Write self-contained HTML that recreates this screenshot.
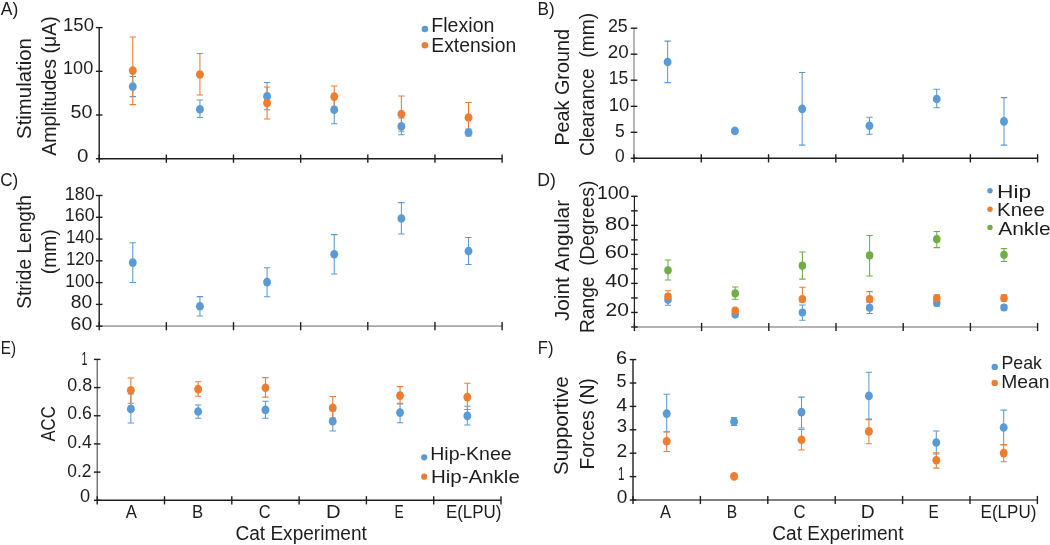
<!DOCTYPE html>
<html><head><meta charset="utf-8"><title>Chart</title>
<style>
html,body{margin:0;padding:0;background:#fff;width:1050px;height:545px;overflow:hidden;}
svg{display:block;will-change:transform;filter:blur(0.3px);font-family:"Liberation Sans",sans-serif;font-kerning:none;}
</style></head>
<body>
<svg width="1050" height="545" viewBox="0 0 1050 545">
<rect width="1050" height="545" fill="#fff"/>
<text x="0.87" y="15.1" font-size="19" fill="#1E1E1E" textLength="17.52" lengthAdjust="spacingAndGlyphs" xml:space="preserve">A)</text>
<text x="537.49" y="15.1" font-size="19" fill="#1E1E1E" textLength="17.17" lengthAdjust="spacingAndGlyphs" xml:space="preserve">B)</text>
<text x="0.23" y="185.7" font-size="19" fill="#1E1E1E" textLength="18.03" lengthAdjust="spacingAndGlyphs" xml:space="preserve">C)</text>
<text x="537.25" y="185.7" font-size="19" fill="#1E1E1E" textLength="18.65" lengthAdjust="spacingAndGlyphs" xml:space="preserve">D)</text>
<text x="0.85" y="353.6" font-size="19" fill="#1E1E1E" textLength="15.19" lengthAdjust="spacingAndGlyphs" xml:space="preserve">E)</text>
<text x="537.84" y="353.6" font-size="19" fill="#1E1E1E" textLength="15.7" lengthAdjust="spacingAndGlyphs" xml:space="preserve">F)</text>
<line x1="99.2" y1="27.6" x2="99.2" y2="159.4" stroke="#1E1E1E" stroke-width="1.4"/>
<line x1="98.5" y1="158.7" x2="502.1" y2="158.7" stroke="#1E1E1E" stroke-width="1.4"/>
<line x1="95.9" y1="27.6" x2="102.5" y2="27.6" stroke="#1E1E1E" stroke-width="1.4"/>
<line x1="95.9" y1="71.3" x2="102.5" y2="71.3" stroke="#1E1E1E" stroke-width="1.4"/>
<line x1="95.9" y1="115.0" x2="102.5" y2="115.0" stroke="#1E1E1E" stroke-width="1.4"/>
<line x1="95.9" y1="158.7" x2="102.5" y2="158.7" stroke="#1E1E1E" stroke-width="1.4"/>
<line x1="99.2" y1="154.6" x2="99.2" y2="162.8" stroke="#1E1E1E" stroke-width="1.4"/>
<line x1="166.35" y1="154.6" x2="166.35" y2="162.8" stroke="#1E1E1E" stroke-width="1.4"/>
<line x1="233.5" y1="154.6" x2="233.5" y2="162.8" stroke="#1E1E1E" stroke-width="1.4"/>
<line x1="300.65" y1="154.6" x2="300.65" y2="162.8" stroke="#1E1E1E" stroke-width="1.4"/>
<line x1="367.8" y1="154.6" x2="367.8" y2="162.8" stroke="#1E1E1E" stroke-width="1.4"/>
<line x1="434.95" y1="154.6" x2="434.95" y2="162.8" stroke="#1E1E1E" stroke-width="1.4"/>
<line x1="502.1" y1="154.6" x2="502.1" y2="162.8" stroke="#1E1E1E" stroke-width="1.4"/>
<text x="62.98" y="30.6" font-size="19" fill="#1E1E1E" textLength="31.04" lengthAdjust="spacingAndGlyphs" xml:space="preserve">150</text>
<text x="63.02" y="74.0" font-size="19" fill="#1E1E1E" textLength="30.18" lengthAdjust="spacingAndGlyphs" xml:space="preserve">100</text>
<text x="70.51" y="118.1" font-size="19" fill="#1E1E1E" textLength="21.85" lengthAdjust="spacingAndGlyphs" xml:space="preserve">50</text>
<text x="76.9" y="161.5" font-size="19" fill="#1E1E1E" textLength="11.4" lengthAdjust="spacingAndGlyphs" xml:space="preserve">0</text>
<text transform="translate(31.1,138) rotate(-90)" x="-0.92" y="0" font-size="19.8" fill="#1E1E1E" textLength="100.75" lengthAdjust="spacingAndGlyphs" xml:space="preserve">Stimulation</text>
<text transform="translate(56.1,155.7) rotate(-90)" x="-0.04" y="0" font-size="19.8" fill="#1E1E1E" textLength="139.45" lengthAdjust="spacingAndGlyphs" xml:space="preserve">Amplitudes (μA)</text>
<path d="M132.78 76.5V96.6M129.58 76.5H135.97M129.58 96.6H135.97" stroke="#5B9BD5" stroke-width="1.05" fill="none"/>
<path d="M199.93 99.9V117.4M196.73 99.9H203.12M196.73 117.4H203.12" stroke="#5B9BD5" stroke-width="1.05" fill="none"/>
<path d="M267.07 82.5V109.7M263.88 82.5H270.27M263.88 109.7H270.27" stroke="#5B9BD5" stroke-width="1.05" fill="none"/>
<path d="M334.23 96V123.8M331.03 96H337.43M331.03 123.8H337.43" stroke="#5B9BD5" stroke-width="1.05" fill="none"/>
<path d="M401.38 118V134.8M398.18 118H404.57M398.18 134.8H404.57" stroke="#5B9BD5" stroke-width="1.05" fill="none"/>
<path d="M468.53 129V136M465.33 129H471.73M465.33 136H471.73" stroke="#5B9BD5" stroke-width="1.05" fill="none"/>
<path d="M132.78 36.9V104.6M129.58 36.9H135.97M129.58 104.6H135.97" stroke="#ED7D31" stroke-width="1.05" fill="none"/>
<path d="M199.93 53.5V95M196.73 53.5H203.12M196.73 95H203.12" stroke="#ED7D31" stroke-width="1.05" fill="none"/>
<path d="M267.07 87V119M263.88 87H270.27M263.88 119H270.27" stroke="#ED7D31" stroke-width="1.05" fill="none"/>
<path d="M334.23 86V107M331.03 86H337.43M331.03 107H337.43" stroke="#ED7D31" stroke-width="1.05" fill="none"/>
<path d="M401.38 95.9V131.2M398.18 95.9H404.57M398.18 131.2H404.57" stroke="#ED7D31" stroke-width="1.05" fill="none"/>
<path d="M468.53 102.4V132M465.33 102.4H471.73M465.33 132H471.73" stroke="#ED7D31" stroke-width="1.05" fill="none"/>
<ellipse cx="132.78" cy="86.6" rx="3.96" ry="4.3" fill="#5B9BD5"/>
<ellipse cx="199.93" cy="109.2" rx="3.96" ry="4.3" fill="#5B9BD5"/>
<ellipse cx="267.07" cy="96.4" rx="3.96" ry="4.3" fill="#5B9BD5"/>
<ellipse cx="334.23" cy="109.7" rx="3.96" ry="4.3" fill="#5B9BD5"/>
<ellipse cx="401.38" cy="126.4" rx="3.96" ry="4.3" fill="#5B9BD5"/>
<ellipse cx="468.53" cy="132.5" rx="3.96" ry="4.3" fill="#5B9BD5"/>
<ellipse cx="132.78" cy="70.6" rx="3.96" ry="4.3" fill="#ED7D31"/>
<ellipse cx="199.93" cy="74.5" rx="3.96" ry="4.3" fill="#ED7D31"/>
<ellipse cx="267.07" cy="103" rx="3.96" ry="4.3" fill="#ED7D31"/>
<ellipse cx="334.23" cy="96.6" rx="3.96" ry="4.3" fill="#ED7D31"/>
<ellipse cx="401.38" cy="114" rx="3.96" ry="4.3" fill="#ED7D31"/>
<ellipse cx="468.53" cy="117.5" rx="3.96" ry="4.3" fill="#ED7D31"/>
<circle cx="424.9" cy="29" r="3.3" fill="#5B9BD5"/>
<circle cx="424.9" cy="45.2" r="3.3" fill="#ED7D31"/>
<text x="431.29" y="31.5" font-size="19.8" fill="#1E1E1E" textLength="63.18" lengthAdjust="spacingAndGlyphs" xml:space="preserve">Flexion</text>
<text x="431.32" y="51.8" font-size="19.8" fill="#1E1E1E" textLength="84.84" lengthAdjust="spacingAndGlyphs" xml:space="preserve">Extension</text>
<line x1="634.0" y1="28.2" x2="634.0" y2="159.0" stroke="#A8A8A8" stroke-width="1.7"/>
<line x1="633.3" y1="158.3" x2="1037.62" y2="158.3" stroke="#1E1E1E" stroke-width="1.4"/>
<line x1="630.7" y1="28.2" x2="637.3" y2="28.2" stroke="#1E1E1E" stroke-width="1.4"/>
<line x1="630.7" y1="54.2" x2="637.3" y2="54.2" stroke="#1E1E1E" stroke-width="1.4"/>
<line x1="630.7" y1="80.2" x2="637.3" y2="80.2" stroke="#1E1E1E" stroke-width="1.4"/>
<line x1="630.7" y1="106.3" x2="637.3" y2="106.3" stroke="#1E1E1E" stroke-width="1.4"/>
<line x1="630.7" y1="132.3" x2="637.3" y2="132.3" stroke="#1E1E1E" stroke-width="1.4"/>
<line x1="630.7" y1="158.3" x2="637.3" y2="158.3" stroke="#1E1E1E" stroke-width="1.4"/>
<line x1="634.0" y1="154.2" x2="634.0" y2="162.4" stroke="#1E1E1E" stroke-width="1.4"/>
<line x1="701.27" y1="154.2" x2="701.27" y2="162.4" stroke="#1E1E1E" stroke-width="1.4"/>
<line x1="768.54" y1="154.2" x2="768.54" y2="162.4" stroke="#1E1E1E" stroke-width="1.4"/>
<line x1="835.81" y1="154.2" x2="835.81" y2="162.4" stroke="#1E1E1E" stroke-width="1.4"/>
<line x1="903.08" y1="154.2" x2="903.08" y2="162.4" stroke="#1E1E1E" stroke-width="1.4"/>
<line x1="970.35" y1="154.2" x2="970.35" y2="162.4" stroke="#1E1E1E" stroke-width="1.4"/>
<line x1="1037.62" y1="154.2" x2="1037.62" y2="162.4" stroke="#1E1E1E" stroke-width="1.4"/>
<text x="607.9" y="32.1" font-size="19" fill="#1E1E1E" textLength="19.85" lengthAdjust="spacingAndGlyphs" xml:space="preserve">25</text>
<text x="607.86" y="58.2" font-size="19" fill="#1E1E1E" textLength="20.88" lengthAdjust="spacingAndGlyphs" xml:space="preserve">20</text>
<text x="608.77" y="84.1" font-size="19" fill="#1E1E1E" textLength="19.47" lengthAdjust="spacingAndGlyphs" xml:space="preserve">15</text>
<text x="608.7" y="110.5" font-size="19" fill="#1E1E1E" textLength="20.41" lengthAdjust="spacingAndGlyphs" xml:space="preserve">10</text>
<text x="614.9" y="136.6" font-size="19" fill="#1E1E1E" textLength="9.74" lengthAdjust="spacingAndGlyphs" xml:space="preserve">5</text>
<text x="614.92" y="162.2" font-size="19" fill="#1E1E1E" textLength="9.66" lengthAdjust="spacingAndGlyphs" xml:space="preserve">0</text>
<text transform="translate(568.5,144) rotate(-90)" x="-1.62" y="0" font-size="19.8" fill="#1E1E1E" textLength="116.6" lengthAdjust="spacingAndGlyphs" xml:space="preserve">Peak Ground</text>
<text transform="translate(594,155) rotate(-90)" x="-0.98" y="0" font-size="19.8" fill="#1E1E1E" textLength="143.07" lengthAdjust="spacingAndGlyphs" xml:space="preserve">Clearance  (mm)</text>
<path d="M667.63 41.1V82.6M664.43 41.1H670.84M664.43 82.6H670.84" stroke="#5B9BD5" stroke-width="1.05" fill="none"/>
<path d="M734.9 129V133M731.7 129H738.11M731.7 133H738.11" stroke="#5B9BD5" stroke-width="1.05" fill="none"/>
<path d="M802.17 72.5V145.1M798.97 72.5H805.38M798.97 145.1H805.38" stroke="#5B9BD5" stroke-width="1.05" fill="none"/>
<path d="M869.44 117.2V134.3M866.24 117.2H872.64M866.24 134.3H872.64" stroke="#5B9BD5" stroke-width="1.05" fill="none"/>
<path d="M936.71 89.3V107.8M933.51 89.3H939.91M933.51 107.8H939.91" stroke="#5B9BD5" stroke-width="1.05" fill="none"/>
<path d="M1003.98 97.6V145.1M1000.78 97.6H1007.18M1000.78 145.1H1007.18" stroke="#5B9BD5" stroke-width="1.05" fill="none"/>
<ellipse cx="667.63" cy="62" rx="3.96" ry="4.3" fill="#5B9BD5"/>
<ellipse cx="734.9" cy="130.9" rx="3.96" ry="4.3" fill="#5B9BD5"/>
<ellipse cx="802.17" cy="108.9" rx="3.96" ry="4.3" fill="#5B9BD5"/>
<ellipse cx="869.44" cy="125.8" rx="3.96" ry="4.3" fill="#5B9BD5"/>
<ellipse cx="936.71" cy="99" rx="3.96" ry="4.3" fill="#5B9BD5"/>
<ellipse cx="1003.98" cy="121.4" rx="3.96" ry="4.3" fill="#5B9BD5"/>
<line x1="99.2" y1="195.5" x2="99.2" y2="326.9" stroke="#1E1E1E" stroke-width="1.4"/>
<line x1="98.5" y1="326.2" x2="502.1" y2="326.2" stroke="#A8A8A8" stroke-width="1.7"/>
<line x1="95.9" y1="195.5" x2="102.5" y2="195.5" stroke="#1E1E1E" stroke-width="1.4"/>
<line x1="95.9" y1="217.28" x2="102.5" y2="217.28" stroke="#1E1E1E" stroke-width="1.4"/>
<line x1="95.9" y1="239.06" x2="102.5" y2="239.06" stroke="#1E1E1E" stroke-width="1.4"/>
<line x1="95.9" y1="260.84" x2="102.5" y2="260.84" stroke="#1E1E1E" stroke-width="1.4"/>
<line x1="95.9" y1="282.62" x2="102.5" y2="282.62" stroke="#1E1E1E" stroke-width="1.4"/>
<line x1="95.9" y1="304.4" x2="102.5" y2="304.4" stroke="#1E1E1E" stroke-width="1.4"/>
<line x1="95.9" y1="326.18" x2="102.5" y2="326.18" stroke="#1E1E1E" stroke-width="1.4"/>
<line x1="99.2" y1="322.1" x2="99.2" y2="330.3" stroke="#1E1E1E" stroke-width="1.4"/>
<line x1="166.35" y1="322.1" x2="166.35" y2="330.3" stroke="#1E1E1E" stroke-width="1.4"/>
<line x1="233.5" y1="322.1" x2="233.5" y2="330.3" stroke="#1E1E1E" stroke-width="1.4"/>
<line x1="300.65" y1="322.1" x2="300.65" y2="330.3" stroke="#1E1E1E" stroke-width="1.4"/>
<line x1="367.8" y1="322.1" x2="367.8" y2="330.3" stroke="#1E1E1E" stroke-width="1.4"/>
<line x1="434.95" y1="322.1" x2="434.95" y2="330.3" stroke="#1E1E1E" stroke-width="1.4"/>
<line x1="502.1" y1="322.1" x2="502.1" y2="330.3" stroke="#1E1E1E" stroke-width="1.4"/>
<text x="64.84" y="199.9" font-size="19" fill="#1E1E1E" textLength="29.86" lengthAdjust="spacingAndGlyphs" xml:space="preserve">180</text>
<text x="64.84" y="221.3" font-size="19" fill="#1E1E1E" textLength="29.86" lengthAdjust="spacingAndGlyphs" xml:space="preserve">160</text>
<text x="65.91" y="243.2" font-size="19" fill="#1E1E1E" textLength="28.36" lengthAdjust="spacingAndGlyphs" xml:space="preserve">140</text>
<text x="65.91" y="265" font-size="19" fill="#1E1E1E" textLength="28.36" lengthAdjust="spacingAndGlyphs" xml:space="preserve">120</text>
<text x="65.28" y="286.7" font-size="19" fill="#1E1E1E" textLength="29.0" lengthAdjust="spacingAndGlyphs" xml:space="preserve">100</text>
<text x="70.76" y="308.3" font-size="19" fill="#1E1E1E" textLength="21.39" lengthAdjust="spacingAndGlyphs" xml:space="preserve">80</text>
<text x="70.62" y="329.5" font-size="19" fill="#1E1E1E" textLength="21.54" lengthAdjust="spacingAndGlyphs" xml:space="preserve">60</text>
<text transform="translate(31.0,308) rotate(-90)" x="-0.87" y="0" font-size="19.8" fill="#1E1E1E" textLength="113.81" lengthAdjust="spacingAndGlyphs" xml:space="preserve">Stride Length</text>
<text transform="translate(56.2,273) rotate(-90)" x="-1.19" y="0" font-size="19.8" fill="#1E1E1E" textLength="44.89" lengthAdjust="spacingAndGlyphs" xml:space="preserve">(mm)</text>
<path d="M132.78 242.7V282.5M129.58 242.7H135.97M129.58 282.5H135.97" stroke="#5B9BD5" stroke-width="1.05" fill="none"/>
<path d="M199.93 296.6V315.9M196.73 296.6H203.12M196.73 315.9H203.12" stroke="#5B9BD5" stroke-width="1.05" fill="none"/>
<path d="M267.07 267.8V296.8M263.88 267.8H270.27M263.88 296.8H270.27" stroke="#5B9BD5" stroke-width="1.05" fill="none"/>
<path d="M334.23 234.6V273.9M331.03 234.6H337.43M331.03 273.9H337.43" stroke="#5B9BD5" stroke-width="1.05" fill="none"/>
<path d="M401.38 202.6V234M398.18 202.6H404.57M398.18 234H404.57" stroke="#5B9BD5" stroke-width="1.05" fill="none"/>
<path d="M468.53 237.5V264.5M465.33 237.5H471.73M465.33 264.5H471.73" stroke="#5B9BD5" stroke-width="1.05" fill="none"/>
<ellipse cx="132.78" cy="262.6" rx="3.96" ry="4.3" fill="#5B9BD5"/>
<ellipse cx="199.93" cy="306.3" rx="3.96" ry="4.3" fill="#5B9BD5"/>
<ellipse cx="267.07" cy="282.1" rx="3.96" ry="4.3" fill="#5B9BD5"/>
<ellipse cx="334.23" cy="254.3" rx="3.96" ry="4.3" fill="#5B9BD5"/>
<ellipse cx="401.38" cy="218.5" rx="3.96" ry="4.3" fill="#5B9BD5"/>
<ellipse cx="468.53" cy="251" rx="3.96" ry="4.3" fill="#5B9BD5"/>
<line x1="634.4" y1="196.3" x2="634.4" y2="327.7" stroke="#1E1E1E" stroke-width="1.2"/>
<line x1="633.7" y1="327.0" x2="1037.6" y2="327.0" stroke="#9A9A9A" stroke-width="1.6"/>
<line x1="631.1" y1="196.3" x2="637.7" y2="196.3" stroke="#1E1E1E" stroke-width="1.4"/>
<line x1="631.1" y1="210.82" x2="637.7" y2="210.82" stroke="#1E1E1E" stroke-width="1.4"/>
<line x1="631.1" y1="225.34" x2="637.7" y2="225.34" stroke="#1E1E1E" stroke-width="1.4"/>
<line x1="631.1" y1="239.86" x2="637.7" y2="239.86" stroke="#1E1E1E" stroke-width="1.4"/>
<line x1="631.1" y1="254.38" x2="637.7" y2="254.38" stroke="#1E1E1E" stroke-width="1.4"/>
<line x1="631.1" y1="268.9" x2="637.7" y2="268.9" stroke="#1E1E1E" stroke-width="1.4"/>
<line x1="631.1" y1="283.42" x2="637.7" y2="283.42" stroke="#1E1E1E" stroke-width="1.4"/>
<line x1="631.1" y1="297.94" x2="637.7" y2="297.94" stroke="#1E1E1E" stroke-width="1.4"/>
<line x1="631.1" y1="312.46" x2="637.7" y2="312.46" stroke="#1E1E1E" stroke-width="1.4"/>
<line x1="631.1" y1="326.98" x2="637.7" y2="326.98" stroke="#1E1E1E" stroke-width="1.4"/>
<line x1="634.4" y1="322.9" x2="634.4" y2="331.1" stroke="#1E1E1E" stroke-width="1.4"/>
<line x1="701.6" y1="322.9" x2="701.6" y2="331.1" stroke="#1E1E1E" stroke-width="1.4"/>
<line x1="768.8" y1="322.9" x2="768.8" y2="331.1" stroke="#1E1E1E" stroke-width="1.4"/>
<line x1="836.0" y1="322.9" x2="836.0" y2="331.1" stroke="#1E1E1E" stroke-width="1.4"/>
<line x1="903.2" y1="322.9" x2="903.2" y2="331.1" stroke="#1E1E1E" stroke-width="1.4"/>
<line x1="970.4" y1="322.9" x2="970.4" y2="331.1" stroke="#1E1E1E" stroke-width="1.4"/>
<line x1="1037.6" y1="322.9" x2="1037.6" y2="331.1" stroke="#1E1E1E" stroke-width="1.4"/>
<text x="596.91" y="199.4" font-size="19" fill="#1E1E1E" textLength="32.55" lengthAdjust="spacingAndGlyphs" xml:space="preserve">100</text>
<text x="605.04" y="229.7" font-size="19" fill="#1E1E1E" textLength="24.52" lengthAdjust="spacingAndGlyphs" xml:space="preserve">80</text>
<text x="604.69" y="258.2" font-size="19" fill="#1E1E1E" textLength="24.26" lengthAdjust="spacingAndGlyphs" xml:space="preserve">60</text>
<text x="605.31" y="287.2" font-size="19" fill="#1E1E1E" textLength="23.62" lengthAdjust="spacingAndGlyphs" xml:space="preserve">40</text>
<text x="605.54" y="316.1" font-size="19" fill="#1E1E1E" textLength="23.38" lengthAdjust="spacingAndGlyphs" xml:space="preserve">20</text>
<text transform="translate(569.3,320.8) rotate(-90)" x="-0.32" y="0" font-size="19.8" fill="#1E1E1E" textLength="121.17" lengthAdjust="spacingAndGlyphs" xml:space="preserve">Joint Angular</text>
<text transform="translate(594.3,331.4) rotate(-90)" x="-1.57" y="0" font-size="19.8" fill="#1E1E1E" textLength="152.26" lengthAdjust="spacingAndGlyphs" xml:space="preserve">Range  (Degrees)</text>
<path d="M668.0 294V305.3M664.8 294H671.2M664.8 305.3H671.2" stroke="#5B9BD5" stroke-width="1.05" fill="none"/>
<path d="M802.4 305V320.3M799.2 305H805.6M799.2 320.3H805.6" stroke="#5B9BD5" stroke-width="1.05" fill="none"/>
<path d="M869.6 302V313.4M866.4 302H872.8M866.4 313.4H872.8" stroke="#5B9BD5" stroke-width="1.05" fill="none"/>
<path d="M936.8 300V306M933.6 300H940.0M933.6 306H940.0" stroke="#5B9BD5" stroke-width="1.05" fill="none"/>
<path d="M1004.0 305V310M1000.8 305H1007.2M1000.8 310H1007.2" stroke="#5B9BD5" stroke-width="1.05" fill="none"/>
<path d="M668.0 290.8V301M664.8 290.8H671.2M664.8 301H671.2" stroke="#ED7D31" stroke-width="1.05" fill="none"/>
<path d="M802.4 287.2V302M799.2 287.2H805.6M799.2 302H805.6" stroke="#ED7D31" stroke-width="1.05" fill="none"/>
<path d="M869.6 291.6V302M866.4 291.6H872.8M866.4 302H872.8" stroke="#ED7D31" stroke-width="1.05" fill="none"/>
<path d="M936.8 295V301M933.6 295H940.0M933.6 301H940.0" stroke="#ED7D31" stroke-width="1.05" fill="none"/>
<path d="M1004.0 295V301M1000.8 295H1007.2M1000.8 301H1007.2" stroke="#ED7D31" stroke-width="1.05" fill="none"/>
<path d="M668.0 260V280M664.8 260H671.2M664.8 280H671.2" stroke="#70AD47" stroke-width="1.05" fill="none"/>
<path d="M735.2 287V299.2M732.0 287H738.4M732.0 299.2H738.4" stroke="#70AD47" stroke-width="1.05" fill="none"/>
<path d="M802.4 252V279.1M799.2 252H805.6M799.2 279.1H805.6" stroke="#70AD47" stroke-width="1.05" fill="none"/>
<path d="M869.6 235.5V276M866.4 235.5H872.8M866.4 276H872.8" stroke="#70AD47" stroke-width="1.05" fill="none"/>
<path d="M936.8 231.4V247.6M933.6 231.4H940.0M933.6 247.6H940.0" stroke="#70AD47" stroke-width="1.05" fill="none"/>
<path d="M1004.0 248.6V261.4M1000.8 248.6H1007.2M1000.8 261.4H1007.2" stroke="#70AD47" stroke-width="1.05" fill="none"/>
<ellipse cx="668.0" cy="299.8" rx="3.76" ry="4.09" fill="#5B9BD5"/>
<ellipse cx="735.2" cy="314.6" rx="3.76" ry="4.09" fill="#5B9BD5"/>
<ellipse cx="802.4" cy="312.5" rx="3.76" ry="4.09" fill="#5B9BD5"/>
<ellipse cx="869.6" cy="307.8" rx="3.76" ry="4.09" fill="#5B9BD5"/>
<ellipse cx="936.8" cy="303.1" rx="3.76" ry="4.09" fill="#5B9BD5"/>
<ellipse cx="1004.0" cy="307.5" rx="3.76" ry="4.09" fill="#5B9BD5"/>
<ellipse cx="668.0" cy="296.6" rx="3.76" ry="4.09" fill="#ED7D31"/>
<ellipse cx="735.2" cy="310.7" rx="3.76" ry="4.09" fill="#ED7D31"/>
<ellipse cx="802.4" cy="299.1" rx="3.76" ry="4.09" fill="#ED7D31"/>
<ellipse cx="869.6" cy="299.1" rx="3.76" ry="4.09" fill="#ED7D31"/>
<ellipse cx="936.8" cy="298.2" rx="3.76" ry="4.09" fill="#ED7D31"/>
<ellipse cx="1004.0" cy="298.2" rx="3.76" ry="4.09" fill="#ED7D31"/>
<ellipse cx="668.0" cy="270.3" rx="3.76" ry="4.09" fill="#70AD47"/>
<ellipse cx="735.2" cy="293.4" rx="3.76" ry="4.09" fill="#70AD47"/>
<ellipse cx="802.4" cy="265.7" rx="3.76" ry="4.09" fill="#70AD47"/>
<ellipse cx="869.6" cy="255.4" rx="3.76" ry="4.09" fill="#70AD47"/>
<ellipse cx="936.8" cy="239.2" rx="3.76" ry="4.09" fill="#70AD47"/>
<ellipse cx="1004.0" cy="254.8" rx="3.76" ry="4.09" fill="#70AD47"/>
<circle cx="990" cy="190.7" r="2.7" fill="#5B9BD5"/>
<circle cx="990" cy="209.2" r="2.7" fill="#ED7D31"/>
<circle cx="990" cy="227.4" r="2.7" fill="#70AD47"/>
<text x="996.93" y="198.2" font-size="19" fill="#1E1E1E" textLength="34.23" lengthAdjust="spacingAndGlyphs" xml:space="preserve">Hip</text>
<text x="997.13" y="216.4" font-size="19" fill="#1E1E1E" textLength="47.68" lengthAdjust="spacingAndGlyphs" xml:space="preserve">Knee</text>
<text x="998.16" y="234.5" font-size="19" fill="#1E1E1E" textLength="52.57" lengthAdjust="spacingAndGlyphs" xml:space="preserve">Ankle</text>
<line x1="97.2" y1="359.4" x2="97.2" y2="501.0" stroke="#4A4A4A" stroke-width="1.1"/>
<line x1="96.5" y1="500.3" x2="501.0" y2="500.3" stroke="#1E1E1E" stroke-width="1.4"/>
<line x1="93.9" y1="359.4" x2="100.5" y2="359.4" stroke="#1E1E1E" stroke-width="1.4"/>
<line x1="93.9" y1="387.58" x2="100.5" y2="387.58" stroke="#1E1E1E" stroke-width="1.4"/>
<line x1="93.9" y1="415.76" x2="100.5" y2="415.76" stroke="#1E1E1E" stroke-width="1.4"/>
<line x1="93.9" y1="443.94" x2="100.5" y2="443.94" stroke="#1E1E1E" stroke-width="1.4"/>
<line x1="93.9" y1="472.12" x2="100.5" y2="472.12" stroke="#1E1E1E" stroke-width="1.4"/>
<line x1="93.9" y1="500.3" x2="100.5" y2="500.3" stroke="#1E1E1E" stroke-width="1.4"/>
<line x1="97.2" y1="496.2" x2="97.2" y2="504.4" stroke="#1E1E1E" stroke-width="1.4"/>
<line x1="164.5" y1="496.2" x2="164.5" y2="504.4" stroke="#1E1E1E" stroke-width="1.4"/>
<line x1="231.8" y1="496.2" x2="231.8" y2="504.4" stroke="#1E1E1E" stroke-width="1.4"/>
<line x1="299.1" y1="496.2" x2="299.1" y2="504.4" stroke="#1E1E1E" stroke-width="1.4"/>
<line x1="366.4" y1="496.2" x2="366.4" y2="504.4" stroke="#1E1E1E" stroke-width="1.4"/>
<line x1="433.7" y1="496.2" x2="433.7" y2="504.4" stroke="#1E1E1E" stroke-width="1.4"/>
<line x1="501.0" y1="496.2" x2="501.0" y2="504.4" stroke="#1E1E1E" stroke-width="1.4"/>
<text x="81.39" y="365.4" font-size="19" fill="#1E1E1E" textLength="5.93" lengthAdjust="spacingAndGlyphs" xml:space="preserve">1</text>
<text x="67.3" y="391.3" font-size="19" fill="#1E1E1E" textLength="24.88" lengthAdjust="spacingAndGlyphs" xml:space="preserve">0.8</text>
<text x="67.31" y="419.1" font-size="19" fill="#1E1E1E" textLength="24.67" lengthAdjust="spacingAndGlyphs" xml:space="preserve">0.6</text>
<text x="67.31" y="448.4" font-size="19" fill="#1E1E1E" textLength="24.4" lengthAdjust="spacingAndGlyphs" xml:space="preserve">0.4</text>
<text x="67.32" y="476.8" font-size="19" fill="#1E1E1E" textLength="24.15" lengthAdjust="spacingAndGlyphs" xml:space="preserve">0.2</text>
<text x="80.09" y="502.2" font-size="19" fill="#1E1E1E" textLength="10.12" lengthAdjust="spacingAndGlyphs" xml:space="preserve">0</text>
<text transform="translate(54.7,441.5) rotate(-90)" x="-0.03" y="0" font-size="19.8" fill="#1E1E1E" textLength="35.27" lengthAdjust="spacingAndGlyphs" xml:space="preserve">ACC</text>
<path d="M130.85 394V423M127.65 394H134.05M127.65 423H134.05" stroke="#5B9BD5" stroke-width="1.05" fill="none"/>
<path d="M198.15 404.9V418.3M194.95 404.9H201.35M194.95 418.3H201.35" stroke="#5B9BD5" stroke-width="1.05" fill="none"/>
<path d="M265.45 401.3V418.2M262.25 401.3H268.65M262.25 418.2H268.65" stroke="#5B9BD5" stroke-width="1.05" fill="none"/>
<path d="M332.75 411V431M329.55 411H335.95M329.55 431H335.95" stroke="#5B9BD5" stroke-width="1.05" fill="none"/>
<path d="M400.05 403.2V422.7M396.85 403.2H403.25M396.85 422.7H403.25" stroke="#5B9BD5" stroke-width="1.05" fill="none"/>
<path d="M467.35 406.2V425M464.15 406.2H470.55M464.15 425H470.55" stroke="#5B9BD5" stroke-width="1.05" fill="none"/>
<path d="M130.85 377.9V403.2M127.65 377.9H134.05M127.65 403.2H134.05" stroke="#ED7D31" stroke-width="1.05" fill="none"/>
<path d="M198.15 381.8V396.3M194.95 381.8H201.35M194.95 396.3H201.35" stroke="#ED7D31" stroke-width="1.05" fill="none"/>
<path d="M265.45 377.6V397.1M262.25 377.6H268.65M262.25 397.1H268.65" stroke="#ED7D31" stroke-width="1.05" fill="none"/>
<path d="M332.75 396.4V418M329.55 396.4H335.95M329.55 418H335.95" stroke="#ED7D31" stroke-width="1.05" fill="none"/>
<path d="M400.05 386.6V404M396.85 386.6H403.25M396.85 404H403.25" stroke="#ED7D31" stroke-width="1.05" fill="none"/>
<path d="M467.35 383.2V409.5M464.15 383.2H470.55M464.15 409.5H470.55" stroke="#ED7D31" stroke-width="1.05" fill="none"/>
<ellipse cx="130.85" cy="408.9" rx="3.96" ry="4.3" fill="#5B9BD5"/>
<ellipse cx="198.15" cy="411.5" rx="3.96" ry="4.3" fill="#5B9BD5"/>
<ellipse cx="265.45" cy="409.9" rx="3.96" ry="4.3" fill="#5B9BD5"/>
<ellipse cx="332.75" cy="421.2" rx="3.96" ry="4.3" fill="#5B9BD5"/>
<ellipse cx="400.05" cy="412.6" rx="3.96" ry="4.3" fill="#5B9BD5"/>
<ellipse cx="467.35" cy="415.9" rx="3.96" ry="4.3" fill="#5B9BD5"/>
<ellipse cx="130.85" cy="390.2" rx="3.96" ry="4.3" fill="#ED7D31"/>
<ellipse cx="198.15" cy="389.1" rx="3.96" ry="4.3" fill="#ED7D31"/>
<ellipse cx="265.45" cy="387.7" rx="3.96" ry="4.3" fill="#ED7D31"/>
<ellipse cx="332.75" cy="407.7" rx="3.96" ry="4.3" fill="#ED7D31"/>
<ellipse cx="400.05" cy="395.6" rx="3.96" ry="4.3" fill="#ED7D31"/>
<ellipse cx="467.35" cy="397.1" rx="3.96" ry="4.3" fill="#ED7D31"/>
<text x="125.77" y="517.7" font-size="19" fill="#1E1E1E" textLength="11.17" lengthAdjust="spacingAndGlyphs" xml:space="preserve">A</text>
<text x="192.03" y="517.7" font-size="19" fill="#1E1E1E" textLength="11.15" lengthAdjust="spacingAndGlyphs" xml:space="preserve">B</text>
<text x="258.77" y="517.7" font-size="19" fill="#1E1E1E" textLength="11.86" lengthAdjust="spacingAndGlyphs" xml:space="preserve">C</text>
<text x="325.94" y="517.7" font-size="19" fill="#1E1E1E" textLength="14.63" lengthAdjust="spacingAndGlyphs" xml:space="preserve">D</text>
<text x="394.46" y="517.7" font-size="19" fill="#1E1E1E" textLength="9.23" lengthAdjust="spacingAndGlyphs" xml:space="preserve">E</text>
<text x="445.91" y="517.7" font-size="19" fill="#1E1E1E" textLength="55.54" lengthAdjust="spacingAndGlyphs" xml:space="preserve">E(LPU)</text>
<text x="235.43" y="539.7" font-size="19.5" fill="#1E1E1E" textLength="131.41" lengthAdjust="spacingAndGlyphs" xml:space="preserve">Cat Experiment</text>
<circle cx="424.2" cy="457.3" r="3.1" fill="#5B9BD5"/>
<circle cx="424.2" cy="476.7" r="3.1" fill="#ED7D31"/>
<text x="430.19" y="460.4" font-size="19" fill="#1E1E1E" textLength="81.57" lengthAdjust="spacingAndGlyphs" xml:space="preserve">Hip-Knee</text>
<text x="430.92" y="483" font-size="19" fill="#1E1E1E" textLength="88.89" lengthAdjust="spacingAndGlyphs" xml:space="preserve">Hip-Ankle</text>
<line x1="633.0" y1="359.6" x2="633.0" y2="500.7" stroke="#1E1E1E" stroke-width="1.4"/>
<line x1="632.3" y1="500.0" x2="1037.4" y2="500.0" stroke="#555555" stroke-width="1.5"/>
<line x1="629.7" y1="359.6" x2="636.3" y2="359.6" stroke="#1E1E1E" stroke-width="1.4"/>
<line x1="629.7" y1="383.0" x2="636.3" y2="383.0" stroke="#1E1E1E" stroke-width="1.4"/>
<line x1="629.7" y1="406.4" x2="636.3" y2="406.4" stroke="#1E1E1E" stroke-width="1.4"/>
<line x1="629.7" y1="429.8" x2="636.3" y2="429.8" stroke="#1E1E1E" stroke-width="1.4"/>
<line x1="629.7" y1="453.2" x2="636.3" y2="453.2" stroke="#1E1E1E" stroke-width="1.4"/>
<line x1="629.7" y1="476.6" x2="636.3" y2="476.6" stroke="#1E1E1E" stroke-width="1.4"/>
<line x1="629.7" y1="500.0" x2="636.3" y2="500.0" stroke="#1E1E1E" stroke-width="1.4"/>
<line x1="633.0" y1="495.9" x2="633.0" y2="504.1" stroke="#1E1E1E" stroke-width="1.4"/>
<line x1="700.4" y1="495.9" x2="700.4" y2="504.1" stroke="#1E1E1E" stroke-width="1.4"/>
<line x1="767.8" y1="495.9" x2="767.8" y2="504.1" stroke="#1E1E1E" stroke-width="1.4"/>
<line x1="835.2" y1="495.9" x2="835.2" y2="504.1" stroke="#1E1E1E" stroke-width="1.4"/>
<line x1="902.6" y1="495.9" x2="902.6" y2="504.1" stroke="#1E1E1E" stroke-width="1.4"/>
<line x1="970.0" y1="495.9" x2="970.0" y2="504.1" stroke="#1E1E1E" stroke-width="1.4"/>
<line x1="1037.4" y1="495.9" x2="1037.4" y2="504.1" stroke="#1E1E1E" stroke-width="1.4"/>
<text x="616.09" y="363.5" font-size="19" fill="#1E1E1E" textLength="11.09" lengthAdjust="spacingAndGlyphs" xml:space="preserve">6</text>
<text x="616.38" y="387.1" font-size="19" fill="#1E1E1E" textLength="9.97" lengthAdjust="spacingAndGlyphs" xml:space="preserve">5</text>
<text x="616.34" y="410.6" font-size="19" fill="#1E1E1E" textLength="11.04" lengthAdjust="spacingAndGlyphs" xml:space="preserve">4</text>
<text x="616.69" y="432.4" font-size="19" fill="#1E1E1E" textLength="10.32" lengthAdjust="spacingAndGlyphs" xml:space="preserve">3</text>
<text x="616.43" y="457.2" font-size="19" fill="#1E1E1E" textLength="10.74" lengthAdjust="spacingAndGlyphs" xml:space="preserve">2</text>
<text x="618.12" y="479.8" font-size="19" fill="#1E1E1E" textLength="6.45" lengthAdjust="spacingAndGlyphs" xml:space="preserve">1</text>
<text x="616.66" y="502.6" font-size="19" fill="#1E1E1E" textLength="10.59" lengthAdjust="spacingAndGlyphs" xml:space="preserve">0</text>
<text transform="translate(568.4,474.1) rotate(-90)" x="-0.94" y="0" font-size="19.8" fill="#1E1E1E" textLength="98.86" lengthAdjust="spacingAndGlyphs" xml:space="preserve">Supportive</text>
<text transform="translate(593.9,467.9) rotate(-90)" x="-1.59" y="0" font-size="19.8" fill="#1E1E1E" textLength="91.28" lengthAdjust="spacingAndGlyphs" xml:space="preserve">Forces (N)</text>
<path d="M666.7 394.3V432M663.5 394.3H669.9M663.5 432H669.9" stroke="#5B9BD5" stroke-width="1.05" fill="none"/>
<path d="M734.1 417.6V425.5M730.9 417.6H737.3M730.9 425.5H737.3" stroke="#5B9BD5" stroke-width="1.05" fill="none"/>
<path d="M801.5 397.1V427.9M798.3 397.1H804.7M798.3 427.9H804.7" stroke="#5B9BD5" stroke-width="1.05" fill="none"/>
<path d="M868.9 372.2V419M865.7 372.2H872.1M865.7 419H872.1" stroke="#5B9BD5" stroke-width="1.05" fill="none"/>
<path d="M936.3 431V454M933.1 431H939.5M933.1 454H939.5" stroke="#5B9BD5" stroke-width="1.05" fill="none"/>
<path d="M1003.7 410.1V445M1000.5 410.1H1006.9M1000.5 445H1006.9" stroke="#5B9BD5" stroke-width="1.05" fill="none"/>
<path d="M666.7 431.8V451.5M663.5 431.8H669.9M663.5 451.5H669.9" stroke="#ED7D31" stroke-width="1.05" fill="none"/>
<path d="M734.1 475V478M730.9 475H737.3M730.9 478H737.3" stroke="#ED7D31" stroke-width="1.05" fill="none"/>
<path d="M801.5 429.4V450M798.3 429.4H804.7M798.3 450H804.7" stroke="#ED7D31" stroke-width="1.05" fill="none"/>
<path d="M868.9 419.6V443.7M865.7 419.6H872.1M865.7 443.7H872.1" stroke="#ED7D31" stroke-width="1.05" fill="none"/>
<path d="M936.3 452.7V468.1M933.1 452.7H939.5M933.1 468.1H939.5" stroke="#ED7D31" stroke-width="1.05" fill="none"/>
<path d="M1003.7 444.4V461.8M1000.5 444.4H1006.9M1000.5 461.8H1006.9" stroke="#ED7D31" stroke-width="1.05" fill="none"/>
<ellipse cx="666.7" cy="413.6" rx="3.96" ry="4.3" fill="#5B9BD5"/>
<ellipse cx="734.1" cy="421.5" rx="3.96" ry="4.3" fill="#5B9BD5"/>
<ellipse cx="801.5" cy="412.1" rx="3.96" ry="4.3" fill="#5B9BD5"/>
<ellipse cx="868.9" cy="395.9" rx="3.96" ry="4.3" fill="#5B9BD5"/>
<ellipse cx="936.3" cy="442.5" rx="3.96" ry="4.3" fill="#5B9BD5"/>
<ellipse cx="1003.7" cy="427.5" rx="3.96" ry="4.3" fill="#5B9BD5"/>
<ellipse cx="666.7" cy="441.2" rx="3.96" ry="4.3" fill="#ED7D31"/>
<ellipse cx="734.1" cy="476.4" rx="3.96" ry="4.3" fill="#ED7D31"/>
<ellipse cx="801.5" cy="439.7" rx="3.96" ry="4.3" fill="#ED7D31"/>
<ellipse cx="868.9" cy="431.4" rx="3.96" ry="4.3" fill="#ED7D31"/>
<ellipse cx="936.3" cy="460.2" rx="3.96" ry="4.3" fill="#ED7D31"/>
<ellipse cx="1003.7" cy="453.1" rx="3.96" ry="4.3" fill="#ED7D31"/>
<text x="659.97" y="517.7" font-size="19" fill="#1E1E1E" textLength="10.96" lengthAdjust="spacingAndGlyphs" xml:space="preserve">A</text>
<text x="726.72" y="517.7" font-size="19" fill="#1E1E1E" textLength="10.4" lengthAdjust="spacingAndGlyphs" xml:space="preserve">B</text>
<text x="793.45" y="517.7" font-size="19" fill="#1E1E1E" textLength="12.09" lengthAdjust="spacingAndGlyphs" xml:space="preserve">C</text>
<text x="860.72" y="517.7" font-size="19" fill="#1E1E1E" textLength="13.9" lengthAdjust="spacingAndGlyphs" xml:space="preserve">D</text>
<text x="928.44" y="517.7" font-size="19" fill="#1E1E1E" textLength="10.21" lengthAdjust="spacingAndGlyphs" xml:space="preserve">E</text>
<text x="980.61" y="517.7" font-size="19" fill="#1E1E1E" textLength="55.75" lengthAdjust="spacingAndGlyphs" xml:space="preserve">E(LPU)</text>
<text x="772.33" y="539.7" font-size="19.5" fill="#1E1E1E" textLength="131.11" lengthAdjust="spacingAndGlyphs" xml:space="preserve">Cat Experiment</text>
<circle cx="994.7" cy="366.9" r="3.2" fill="#5B9BD5"/>
<circle cx="994.7" cy="382.9" r="3.2" fill="#ED7D31"/>
<text x="1001.54" y="368.6" font-size="18.4" fill="#1E1E1E" textLength="40.43" lengthAdjust="spacingAndGlyphs" xml:space="preserve">Peak</text>
<text x="1001.22" y="388.4" font-size="18.4" fill="#1E1E1E" textLength="48.23" lengthAdjust="spacingAndGlyphs" xml:space="preserve">Mean</text>
</svg>
</body></html>
